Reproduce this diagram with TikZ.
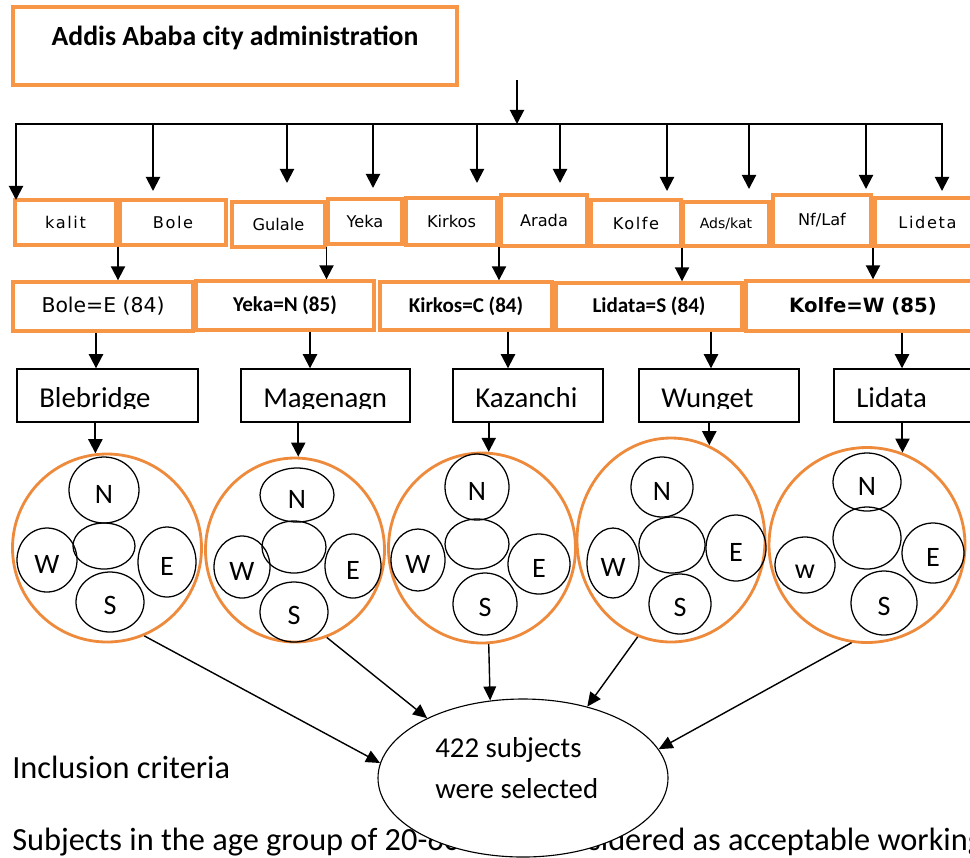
\documentclass[tikz,border=0pt]{standalone}
\usepackage{fontspec}
\setmainfont{Carlito}
\newfontfamily\verd{DejaVu Sans}
\newfontfamily\verdwide[LetterSpace=10]{DejaVu Sans}
\usetikzlibrary{arrows.meta,shapes.geometric,calc}
\definecolor{boxorange}{HTML}{F79646}
\definecolor{ringorange}{HTML}{EE8A3C}
\newcommand{\pxu}{0.025cm}

\begin{document}
\begin{tikzpicture}[
    x=0.025cm, y=-0.025cm,
    obox/.style={draw=boxorange, line width=2.4pt, inner sep=0pt, fill=white},
    kbox/.style={draw, line width=1pt, inner sep=0pt},
    ring/.style={ellipse, draw=ringorange, line width=2pt, fill=white, inner sep=0pt},
    part/.style={ellipse, draw, line width=0.9pt, inner sep=0pt, text height=0.65cm, font=\fontsize{20}{24}\selectfont},
    arrow/.style={-{Triangle[width=10pt,length=10pt]}, line width=1.4pt},
    thin arrow/.style={-{Triangle[width=9pt,length=10pt]}, line width=1pt},
    tag/.style={font=\verd\fontsize{11.5}{13}\selectfont},
    widetag/.style={font=\verdwide\fontsize{11.5}{13}\selectfont},
    smalltag/.style={font=\verd\fontsize{10}{12}\selectfont},
    midtag/.style={font=\verd\fontsize{14.5}{17}\selectfont},
    boldtag/.style={font=\bfseries\fontsize{15}{18}\selectfont},
    boldwide/.style={font=\verd\bfseries\fontsize{14}{17}\selectfont},
    areatext/.style={font=\fontsize{20.5}{24}\selectfont, inner sep=0pt},
    bigtext/.style={font=\fontsize{23}{27}\selectfont, inner sep=0pt}
]
\useasboundingbox (0,0) rectangle (970,857);
\clip (0,0) rectangle (970,857);

% city administration
\node[obox, minimum width=444*\pxu, minimum height=78*\pxu] (city) at (235,46) {};
\node[anchor=base, inner sep=0pt, font=\bfseries\fontsize{19.7}{23}\selectfont] (citytext) at (235,45) {Addis Ababa city administration};

% sub cities
\foreach \nm/\txt/\cx/\cy/\w/\h/\st in {
    kalit/kalit/65.5/222.5/101/45/widetag,
    bole/Bole/173/222.5/106/45/widetag,
    gulale/Gulale/278.5/224.5/93/45/tag,
    yeka/Yeka/365/221.5/74/45/tag,
    kirkos/Kirkos/451.5/221.5/91/47/tag,
    arada/Arada/544/220.5/86/51/tag,
    kolfe/Kolfe/636/223/90/46/widetag,
    adskat/{Ads/kat}/726/224/86/44/smalltag,
    nflaf/{Nf/Laf}/822/220.5/98/51/tag,
    lideta/Lideta/927.5/222/105/48/widetag}
    \node[obox, \st, minimum width=\w*\pxu, minimum height=\h*\pxu] (\nm) at (\cx,\cy) {\txt};

% zones
\foreach \nm/\txt/\cx/\cy/\w/\h/\st in {
    bolee/{Bole=E (84)}/103/306.5/180/49/midtag,
    yekan/{Yeka=N (85)}/285/305.5/178/49/boldtag,
    kirkosc/{Kirkos=C (84)}/466/306/172/48/boldtag,
    lidatas/{Lidata=S (84)}/649/306.5/186/47/boldtag,
    kolfew/{Kolfe=W (85)}/863/306/234/50/boldwide}
    \node[obox, \st, minimum width=\w*\pxu, minimum height=\h*\pxu] (\nm) at (\cx,\cy) {\txt};

% selected areas
\foreach \nm/\txt/\xa/\xb in {bleb/Blebridge/17/198, mage/Magenagn/241/410, kaza/Kazanchi/453/603, wung/Wunget/639/799, lida/Lidata/834/985}{
    \node[kbox, minimum width={(\xb-\xa)*\pxu}, minimum height=53*\pxu] (\nm) at ({(\xa+\xb)/2},395.5) {};
    \begin{scope}
        \clip (\xa,369) rectangle (\xb,408.5);
        \node[areatext, anchor=base west] (\nm-txt) at (\xa+22,407) {\txt};
    \end{scope}
}

% clusters
\node[ring, minimum width=189*\pxu, minimum height=188*\pxu] (c1) at (107,548) {};
\node[ring, minimum width=179*\pxu, minimum height=184*\pxu] (c2) at (295,550) {};
\node[ring, minimum width=187*\pxu, minimum height=190*\pxu] (c3) at (482,548) {};
\node[ring, minimum width=188*\pxu, minimum height=204*\pxu] (c4) at (671,540) {};
\node[ring, minimum width=196*\pxu, minimum height=195*\pxu] (c5) at (867,545) {};

\foreach \nm/\ltr/\cx/\cy/\w/\h in {
    c1-n/N/104/490/70/66, c1-c//104/546/62/46, c1-w/W/47/560/60/64, c1-e/E/167/562/58/70, c1-s/S/110/602/68/60,
    c2-n/N/297/495/74/54, c2-c//294/547/64/52, c2-w/W/242/567/56/62, c2-e/E/353/566/56/64, c2-s/S/294/612/68/60,
    c3-n/N/477/487/64/66, c3-c//477/544/64/50, c3-w/W/418/560/54/62, c3-e/E/539/564/62/60, c3-s/S/485/604/64/62,
    c4-n/N/662/487/62/60, c4-c//672/545/66/56, c4-w/W/613/563/52/70, c4-e/E/736/548/60/66, c4-s/S/680/604/62/60,
    c5-n/N/867/482/68/58, c5-c//867/538/68/62, c5-w/w/805/565/60/56, c5-e/E/933/553/62/60, c5-s/S/884/603/66/64}
    \node[part, minimum width=\w*\pxu, minimum height=\h*\pxu] (\nm) at (\cx,\cy) {\ltr};

% tree of arrows
\coordinate (feed) at (517,80);
\coordinate (bus) at (517,124);
\draw[arrow] (feed) -- (bus);
\foreach \bx/\dx/\tip in {kalit/16/200, bole/153/191, gulale/287/183, yeka/373/188, kirkos/477/183, arada/560/183, kolfe/667/191, adskat/749/189, nflaf/866/189, lideta/942/191}{
    \coordinate (\bx-in) at (\dx,\tip);
    \draw[arrow] (bus -| \bx-in) -- (\bx-in);
}
\draw[line width=1.4pt, line cap=rect] (bus -| kalit-in) -- (bus -| lideta-in);

\foreach \l/\r/\dn in {kalit/bole/bolee, gulale/yeka/yekan, kirkos/arada/kirkosc, kolfe/adskat/lidatas, nflaf/lideta/kolfew}
    \draw[arrow] ($(\l.south east)!.5!(\r.south west)$) coordinate (\dn-up) -- (\dn-up |- \dn.north);

\foreach \up/\dn/\sx in {bolee/bleb/96, yekan/mage/310, kirkosc/kaza/508, lidatas/wung/711, kolfew/lida/902}{
    \coordinate (\dn-x) at (\sx,0);
    \draw[arrow] (\up.south -| \dn-x) -- (\dn.north -| \dn-x);
}

\foreach \up/\dn/\ang in {bleb/c1/97, mage/c2/88, kaza/c3/86, wung/c4/68.5, lida/c5/69.5}
    \draw[arrow] (\up.south -| \dn.\ang) -- (\dn.\ang);

% inclusion text and result
\node[bigtext, anchor=base west] (incl) at (12,778) {Inclusion criteria};
\node[bigtext, anchor=base west] (subj) at (12,850) {Subjects in the age group of 20-60 were considered as acceptable working};

\node[ellipse, draw, line width=0.8pt, fill=white, inner sep=0pt, minimum width=290*\pxu, minimum height=158*\pxu] (sel) at (523,778) {};
\node[areatext, anchor=base west] (sel-a) at (435,757) {422 subjects};
\node[areatext, anchor=base west] (sel-b) at (435,798) {were selected};

\foreach \src/\a/\b in {c1/293/174, c2/290/148, c3/274/113, c4/251/48, c5/261/12}
    \draw[thin arrow] (\src.\a) -- (sel.\b);
\end{tikzpicture}
\end{document}
